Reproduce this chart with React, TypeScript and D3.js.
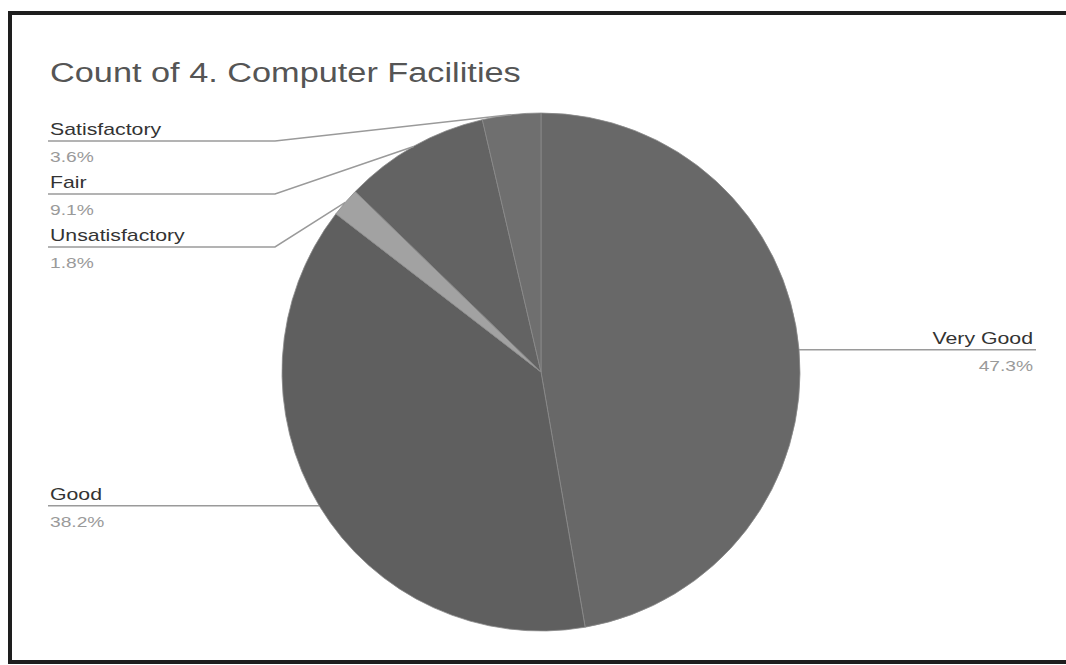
import React from "react";
import * as d3 from "d3";

const categories = ["Very Good", "Good", "Unsatisfactory", "Fair", "Satisfactory"];
const counts = [26, 21, 1, 5, 2];
const percentLabels = ["47.3%", "38.2%", "1.8%", "9.1%", "3.6%"];
const sliceColors = ["#686868", "#5f5f5f", "#a2a2a2", "#636363", "#6f6f6f"];
const title = "Count of 4. Computer Facilities";

const W = 1066;
const H = 665;
const cx = 541;
const cy = 372;
const R = 259;
const FONT = "Liberation Sans, Arial, sans-serif";
const SX = 1.33;

export default function App() {
  const data = categories.map((c, i) => ({ name: c, value: counts[i], pct: percentLabels[i], color: sliceColors[i] }));
  const pie = d3.pie<any>().value((d) => d.value).sort(null);
  const arcs = pie(data);
  const arcGen = d3.arc<any>().innerRadius(0).outerRadius(R);

  const items = arcs.map((a) => {
    const mid = (a.startAngle + a.endAngle) / 2;
    const ex = Math.sin(mid) * R;
    const ey = -Math.cos(mid) * R;
    return { a, mid, ex: cx + ex, ey: cy + ey, side: ex >= 0 ? "right" : "left", y: cy + ey };
  });
  const minY = 141;
  const gap = 53;
  ["left", "right"].forEach((side) => {
    const s = items.filter((d) => d.side === side).sort((p, q) => p.y - q.y);
    let prev = -Infinity;
    s.forEach((d) => {
      const y = Math.max(d.y, minY, prev + gap);
      d.y = y;
      prev = y;
    });
  });

  const leftX = 48;
  const rightX = 1036;
  const elbowLeft = 275;

  return (
    <svg width={W} height={H} style={{ position: "absolute", left: 0, top: 0, background: "#fff" }}>
      <rect x={0} y={0} width={W} height={H} fill="#fff" />
      <rect x={10} y={13} width={W + 20} height={649} fill="#fff" stroke="#1e1e1e" strokeWidth={4} />
      <text transform={`translate(50,82) scale(1.27,1)`} fontFamily={FONT} fontSize={27} fill="#555">
        {title}
      </text>
      <g transform={`translate(${cx},${cy})`}>
        {arcs.map((a, i) => (
          <path key={i} d={arcGen(a) as string} fill={a.data.color} stroke="#8a8a8a" strokeWidth={0.8} />
        ))}
      </g>
      {items.map((d, i) => {
        const isLeft = d.side === "left";
        let pts: [number, number][];
        if (isLeft) {
          pts = Math.abs(d.y - d.ey) < 12
            ? [[leftX, d.y], [d.ex, d.y]]
            : [[leftX, d.y], [elbowLeft, d.y], [d.ex, d.ey]];
        } else {
          pts = [[d.ex, d.y], [rightX, d.y]];
        }
        const line = d3.line()(pts) as string;
        const tx = isLeft ? 50 : 1033;
        const anchor = isLeft ? "start" : "end";
        return (
          <g key={i}>
            <path d={line} fill="none" stroke="#9a9a9a" strokeWidth={1.5} />
            <text transform={`translate(${tx},${d.y - 6}) scale(${SX},1)`} textAnchor={anchor} fontFamily={FONT} fontSize={16} fill="#333">
              {d.a.data.name}
            </text>
            <text transform={`translate(${tx},${d.y + 21}) scale(1.37,1)`} textAnchor={anchor} fontFamily={FONT} fontSize={14} fill="#9a9a9a">
              {d.a.data.pct}
            </text>
          </g>
        );
      })}
    </svg>
  );
}
